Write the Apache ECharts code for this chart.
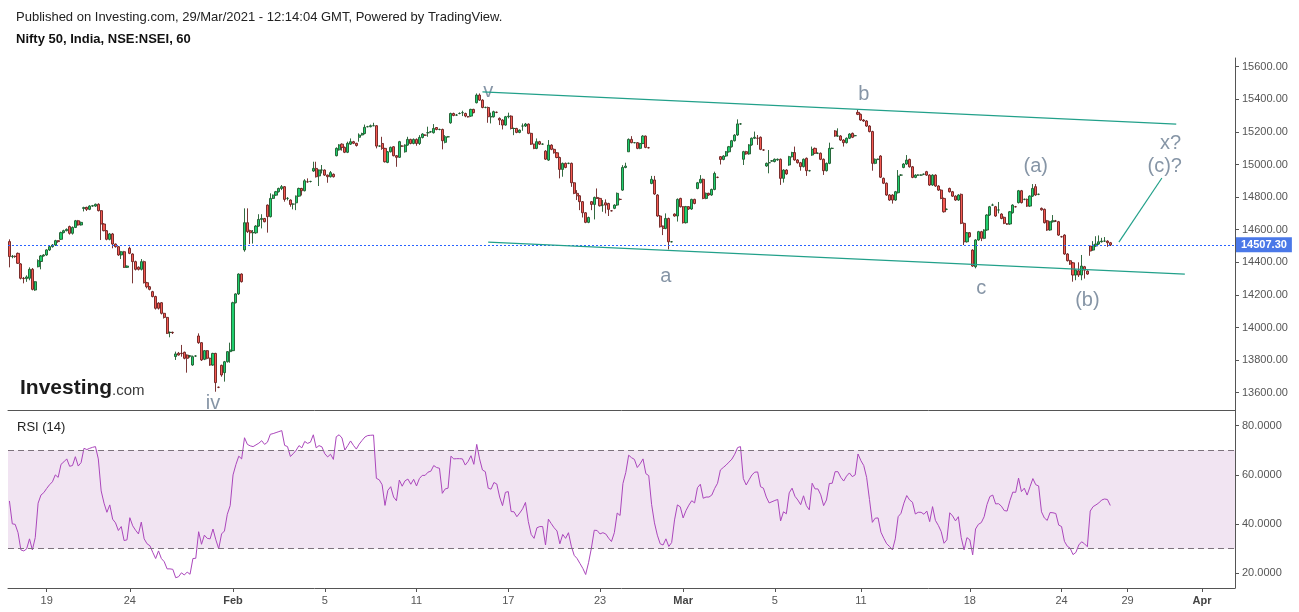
<!DOCTYPE html>
<html>
<head>
<meta charset="utf-8">
<script src="https://cdn.jsdelivr.net/npm/echarts@6/dist/echarts.min.js"></script>
<style>
html,body{margin:0;padding:0;background:#fff;}
#chart{width:1299px;height:612px;}
</style>
</head>
<body>
<div id="chart"></div>
<script>
// hourly candles [open, close, low, high], Nifty 50 (15 Jan - 26 Mar 2021)
const bars = [
[14527,14435,14369,14541],[14435,14437,14425,14445],[14437,14435,14428,14442],[14455,14394,14390,14460],[14390,14302,14295,14395],
[14302,14300,14271,14310],[14300,14310,14280,14320],[14302,14357,14290,14369],[14357,14234,14228,14365],[14230,14281,14225,14285],
[14373,14410,14369,14418],[14405,14439,14357,14445],[14439,14445,14435,14450],[14445,14476,14440,14480],[14476,14496,14470,14500],
[14496,14506,14490,14512],[14506,14533,14500,14538],[14533,14527,14520,14536],[14541,14582,14537,14588],[14582,14594,14578,14600],
[14594,14602,14590,14608],[14619,14578,14570,14625],[14578,14614,14570,14620],[14614,14655,14610,14660],[14655,14629,14625,14660],
[14629,14645,14625,14650],[14731,14735,14712,14741],[14737,14725,14715,14741],[14725,14745,14720,14750],[14745,14747,14740,14752],
[14745,14756,14740,14760],[14756,14717,14712,14762],[14717,14635,14537,14720],[14635,14594,14590,14640],[14594,14541,14535,14598],
[14541,14574,14535,14580],[14574,14512,14486,14580],[14512,14496,14490,14515],[14496,14445,14440,14500],[14445,14465,14420,14470],
[14465,14369,14365,14470],[14369,14377,14365,14380],[14486,14455,14450,14496],[14451,14404,14271,14455],[14404,14357,14350,14410],
[14370,14357,14350,14375],[14357,14404,14350,14420],[14404,14275,14270,14410],[14275,14250,14240,14280],[14250,14234,14228,14255],
[14220,14190,14185,14225],[14190,14118,14110,14195],[14150,14118,14110,14155],[14152,14087,14080,14156],[14087,14062,14055,14090],
[14062,13964,13960,14065],[13970,13970,13940,13975],[13970,13968,13960,13975],[13822,13838,13801,13852],[13842,13831,13828,13850],
[13842,13840,13821,13893],[13848,13811,13805,13852],[13831,13811,13723,13835],[13825,13825,13815,13830],[13770,13821,13765,13828],
[13825,13825,13820,13830],[13948,13907,13900,13964],[13907,13801,13795,13910],[13805,13858,13800,13862],[13858,13811,13805,13862],
[13811,13770,13765,13815],[13770,13841,13765,13845],[13841,13662,13606,13845],[13633,13633,13628,13638],[13768,13709,13698,13772],
[13723,13790,13668,13795],[13790,13852,13785,13855],[13852,13862,13784,13907],[13858,14152,13855,14158],[14152,14206,14148,14210],
[14206,14328,14200,14332],[14328,14281,14276,14332],[14476,14643,14465,14731],[14643,14588,14580,14731],[14594,14581,14512,14600],
[14581,14583,14515,14598],[14581,14622,14575,14628],[14622,14663,14618,14695],[14663,14669,14608,14695],[14669,14649,14645,14672],
[14751,14680,14582,14755],[14680,14792,14675,14823],[14792,14812,14788,14816],[14812,14833,14808,14838],[14833,14853,14828,14858],
[14853,14864,14843,14874],[14864,14786,14772,14868],[14792,14792,14780,14800],[14782,14755,14741,14786],[14757,14757,14725,14762],
[14765,14806,14720,14810],[14806,14853,14802,14858],[14853,14839,14810,14857],[14839,14900,14835,14910],[14894,14894,14888,14915],
[14896,14896,14890,14900],[14960,14976,14955,15017],[14976,14925,14920,15017],[14930,14966,14868,14970],[14966,14966,14945,14997],
[14966,14935,14930,14970],[14935,14925,14888,14938],[14925,14950,14920,14960],[14940,14925,14920,14945],[15054,15099,15050,15105],
[15090,15120,15085,15125],[15125,15105,15085,15130],[15105,15075,15070,15110],[15075,15130,15070,15140],[15125,15140,15120,15160],
[15140,15130,15125,15145],[15130,15117,15110,15133],[15167,15181,15140,15191],[15181,15190,15178,15195],[15190,15228,15185,15245],
[15232,15232,15228,15237],[15232,15238,15228,15245],[15238,15238,15235,15256],[15238,15113,15099,15242],[15113,15113,15108,15117],
[15129,15099,15090,15170],[15099,15017,15012,15102],[15013,15078,15008,15083],[15078,15105,15074,15110],[15109,15054,15050,15113],
[15054,15044,14986,15058],[15044,15140,15040,15145],[15113,15113,15108,15118],[15078,15119,15073,15124],[15119,15154,15115,15170],
[15154,15129,15124,15158],[15129,15154,15124,15160],[15154,15129,15115,15160],[15129,15166,15120,15180],[15166,15187,15160,15192],
[15180,15180,15175,15185],[15195,15195,15170,15232],[15201,15201,15195,15206],[15195,15221,15190,15248],[15227,15215,15210,15230],
[15215,15215,15210,15220],[15215,15146,15093,15220],[15136,15170,15130,15180],[15170,15170,15165,15175],[15256,15313,15250,15318],
[15313,15301,15296,15318],[15303,15303,15298,15310],[15313,15313,15308,15320],[15318,15318,15297,15330],[15313,15297,15290,15318],
[15293,15293,15288,15298],[15297,15338,15292,15342],[15338,15318,15314,15342],[15379,15426,15375,15436],[15426,15395,15390,15436],
[15395,15350,15345,15400],[15350,15350,15345,15355],[15350,15293,15256,15355],[15293,15293,15252,15318],[15293,15324,15288,15330],
[15320,15320,15315,15325],[15283,15273,15242,15289],[15273,15242,15215,15278],[15242,15293,15238,15298],[15293,15297,15283,15318],
[15297,15221,15215,15302],[15221,15221,15180,15226],[15221,15197,15192,15225],[15197,15211,15192,15215],[15236,15236,15207,15252],
[15236,15248,15230,15255],[15248,15191,15186,15252],[15191,15125,15120,15195],[15125,15099,15094,15128],[15099,15140,15094,15160],
[15140,15125,15120,15145],[15125,15125,15120,15130],[15082,15033,15028,15088],[15027,15119,15022,15150],[15119,15093,15088,15124],
[15093,15072,15067,15098],[15072,15043,15038,15076],[15043,14970,14915,15048],[14970,15007,14925,15012],[15007,14982,14977,15012],
[15007,15007,15002,15012],[15007,14888,14863,15012],[14888,14823,14818,14892],[14823,14808,14782,14843],[14808,14772,14720,14812],
[14772,14704,14675,14776],[14704,14645,14640,14708],[14645,14675,14640,14680],[14772,14755,14720,14776],[14755,14798,14663,14803],
[14798,14792,14788,14853],[14792,14747,14742,14796],[14751,14751,14710,14782],[14765,14751,14700,14786],[14761,14725,14684,14765],
[14716,14716,14712,14720],[14731,14751,14726,14756],[14751,14823,14746,14828],[14786,14786,14780,14792],[14843,14982,14838,14996],
[14982,14990,14977,15011],[15078,15154,15078,15160],[15154,15134,15130,15174],[15134,15134,15130,15138],[15134,15099,15094,15138],
[15099,15129,15094,15133],[15129,15174,15125,15180],[15174,15105,15100,15178],[15103,15103,15098,15108],[14884,14909,14879,14930],
[14905,14819,14814,14930],[14813,14684,14679,14818],[14684,14618,14613,14690],[14622,14608,14567,14626],[14608,14669,14603,14700],
[14669,14526,14479,14674],[14526,14526,14522,14530],[14696,14684,14680,14700],[14684,14786,14650,14792],[14792,14741,14736,14796],
[14741,14643,14638,14745],[14643,14741,14638,14746],[14741,14727,14722,14745],[14727,14786,14722,14790],[14786,14761,14756,14790],
[14853,14888,14848,14893],[14888,14909,14884,14935],[14909,14792,14787,14914],[14792,14823,14787,14828],[14823,14813,14808,14827],
[14813,14847,14808,14852],[14847,14945,14842,14956],[14921,14921,14916,14926],[15048,15031,15000,15052],[15031,15052,15026,15057],
[15052,15078,15047,15083],[15078,15109,15073,15114],[15109,15146,15104,15151],[15146,15180,15141,15186],[15181,15249,15176,15277],
[15249,15249,15244,15254],[15032,15079,14997,15084],[15079,15065,15060,15084],[15065,15120,15060,15125],[15120,15161,15115,15166],
[15161,15167,15156,15202],[15161,15161,15120,15181],[15167,15093,15088,15172],[15089,15089,15084,15094],[14991,15007,14986,15012],
[15011,15011,14946,15089],[15022,15022,15017,15027],[15018,15032,15013,15037],[15028,15032,15023,15037],[15032,14915,14875,15037],
[14915,14966,14889,14971],[14966,14942,14937,14971],[14997,15048,14992,15053],[15048,15073,15043,15078],[15073,15028,15023,15110],
[15028,15011,15006,15033],[15011,14987,14962,15016],[14987,15032,14982,15037],[15038,14962,14930,15043],[14962,14962,14957,14967],
[15058,15093,15053,15110],[15099,15069,15064,15104],[15069,15069,15064,15074],[15069,15032,15027,15074],[15032,14962,14936,15037],
[14962,15007,14957,15012],[15007,15099,15002,15134],[15099,15099,15094,15104],[15206,15175,15170,15211],[15175,15175,15170,15222],
[15175,15150,15145,15180],[15150,15134,15110,15155],[15134,15161,15129,15166],[15161,15187,15156,15192],[15191,15167,15162,15196],
[15177,15177,15172,15182],[15320,15308,15303,15335],[15308,15273,15268,15313],[15273,15267,15262,15278],[15267,15236,15231,15272],
[15236,15202,15197,15241],[15202,15007,14962,15207],[15007,15032,15002,15037],[15032,15032,15027,15037],[15052,14922,14917,15057],
[14915,14885,14880,14920],[14885,14813,14808,14890],[14813,14782,14777,14818],[14813,14782,14760,14818],[14782,14833,14777,14838],
[14827,14929,14822,14966],[14935,14935,14930,14940],[14982,15003,14977,15008],[15003,15027,14998,15058],[15031,14986,14981,15036],
[14986,14921,14916,14991],[14921,14935,14916,14940],[14935,14935,14930,14940],[14935,14935,14930,14940],[14940,14940,14935,14945],
[14956,14935,14930,14961],[14935,14874,14869,14940],[14874,14935,14869,14940],[14935,14868,14863,14940],[14868,14843,14838,14873],
[14843,14792,14787,14848],[14792,14710,14705,14797],[14725,14725,14720,14730],[14853,14833,14828,14858],[14833,14806,14801,14838],
[14806,14782,14777,14811],[14782,14813,14777,14818],[14817,14639,14634,14822],[14639,14526,14506,14644],[14526,14581,14521,14586],
[14581,14557,14552,14586],[14475,14377,14372,14480],[14373,14537,14363,14542],[14537,14588,14532,14593],[14588,14547,14530,14593],
[14547,14598,14542,14603],[14598,14690,14593,14695],[14690,14741,14685,14746],[14751,14751,14746,14760],[14741,14684,14679,14746],
[14721,14721,14700,14770],[14696,14669,14664,14701],[14676,14639,14634,14681],[14635,14635,14630,14640],[14635,14710,14630,14715],
[14704,14751,14699,14756],[14741,14741,14736,14746],[14766,14839,14761,14844],[14839,14766,14761,14844],[14786,14786,14781,14791],
[14786,14745,14740,14791],[14745,14806,14740,14811],[14806,14853,14801,14880],[14864,14813,14808,14880],[14817,14817,14812,14822],
[14731,14722,14717,14736],[14725,14643,14638,14730],[14655,14598,14593,14660],[14598,14649,14593,14654],[14649,14655,14644,14690],
[14653,14653,14648,14660],[14649,14567,14562,14654],[14557,14557,14552,14562],[14567,14451,14446,14572],[14451,14410,14405,14456],
[14410,14389,14384,14415],[14397,14322,14281,14402],[14322,14352,14290,14357],[14348,14322,14310,14400],[14322,14377,14290,14445],
[14373,14352,14300,14378],[14346,14328,14323,14351],[14500,14469,14440,14505],[14475,14506,14470,14530],[14500,14512,14495,14560],
[14512,14526,14507,14565],[14526,14530,14521,14550],[14530,14530,14525,14555],[14530,14520,14495,14535],[14520,14507.3,14500,14525]
];

// RSI (14) per candle
const rsi = [
49.4,40.1,39.9,36.5,29.5,29.1,29.9,34,29.5,34.5,48.5,51.8,52.8,54.5,56,57.2,60,59,64.3,65.3,
66.5,63.5,63.8,67.4,63.6,65,70.8,70.3,70.8,71.2,71.5,66.5,53.5,48.5,44.8,47.8,42,40.5,37.4,39,
33.3,33.6,42.6,39.3,37.5,36,40.8,34,32,31.2,28.5,26,29.1,26,24.7,21.8,21.8,21.6,18.2,18.6,
20.2,19.3,20.5,19.6,26,26.1,36.9,31.8,35.5,34.2,34,38,33.6,30,36,37.2,44,47.5,60,64.2,
67.6,66.5,75.1,72.4,71.8,71.5,72.2,72.9,73.9,72.4,73.3,76.5,76.8,77.2,77.6,78,72,71.5,67.5,68.6,
70,71.9,71,73.6,72.8,73.3,76.3,71,71.9,71.4,68.6,67.3,68.4,66.3,75.5,76.3,75,70.1,71.9,73.8,
72,70.5,72.5,74,75.4,76,76.1,76.2,58.6,58,56,47.6,53.7,55.2,51,49.5,57.9,55.4,57.6,58.3,
56.2,58.2,55.5,58.5,59.8,59.8,61.1,61.5,63.8,63,62.7,52.5,54.3,54.6,67.6,66.5,66.6,66.6,66.5,64,
65.5,67.8,64.3,72.4,66.5,62,61.3,54.6,54.2,56.9,56.3,51,47.5,52.9,53.2,45.1,45,43,44.5,46.2,
48.8,41,35.8,34.2,38.5,39,39,31.5,42,40.2,38.5,37.2,32,35.8,34.2,36.5,31,27.3,26,24,
22,19.5,24.3,30.2,37.5,37.4,36,36.5,36,34.3,32.9,36.5,44.5,43.5,56.5,61,68,67,66.3,63,
64.5,66.5,60.5,59.7,48,40.5,35.5,32,31.5,34,30.9,32.5,41.7,47.8,47,42.5,45.5,47.7,49.5,48.6,
54.8,56.2,50.5,51,51,51.8,54.5,56.6,62,63,64,65.2,66.4,68.4,71.1,71.5,58.5,55.9,58,60,
61.1,61.2,55.2,54.6,51,48.6,49.1,49.6,50,41.3,45,44.2,52.7,54.6,51.3,49.8,47.9,51.5,47.5,45.8,
56.6,54.3,54.3,51.9,47.5,49.8,56.5,56.6,61.3,61.3,59,57.5,59.5,60.8,59.3,60,68.5,65.8,63.8,59,
50,40.7,42.4,42.5,36.7,34.2,32,30.9,29.5,34,43,44.4,48.5,51.6,49.8,48.9,44.1,44.8,44.8,44,
45.3,41,47.1,41.5,39.5,37,32.2,33.6,44.6,43.3,41.3,43,34.5,29.5,34.5,33.6,27.5,38,39.9,40.6,
43,48,51.2,51.8,48.2,48.3,47.3,45.5,45.3,49.6,53,52.9,58.7,53.2,54.6,51.8,55.2,58.5,56,55.5,
45,42.5,41.5,44.7,44.6,44.3,39.6,39,33,31,30.2,27.6,28.5,31.5,32.8,32,30.8,45.3,47.1,47.8,
48.6,49.8,50.2,50,47.5712
];

const totalSlots = 428;            // candle slots incl. empty future space
const tickLabels = ['19','24','Feb','5','11','17','23','Mar','5','11','18','24','29','Apr'];
const tickBars   = [13,42,78,110,142,174,206,235,267,297,335,367,390,416];
const monthLabels = ['Feb','Mar','Apr'];
const priceTicks = [13600,13800,14000,14200,14400,14600,14800,15000,15200,15400,15600];
const rsiTicks = [20,40,60,80];
const lastPrice = 14507.3;
const lastRsi = 47.5712;
const waveLabels = [
  ['v',167,15446],['b',298,15432],['a',229,14314],['c',339,14242],['iv',71,13532],
  ['(a)',358,14990],['(b)',376,14165],['x?',405,15132],['(c)?',403,14985]
];
const trendLines = [
  [[165,15445],[407,15248]],
  [[167,14524],[410,14328]],
  [[387,14524],[402,14917]]
];

const FONT = '"Liberation Sans", Arial, sans-serif';
const categories = Array.from({length: totalSlots}, (_, i) => String(i));
const labelAt = {};
tickBars.forEach((b, i) => { labelAt[b] = tickLabels[i]; });
const showTick = (index) => labelAt[index] !== undefined;

const chart = echarts.init(document.getElementById('chart'));
chart.setOption({
  animation: false,
  backgroundColor: '#ffffff',
  grid: [
    {left: 8, right: 64, top: 58, bottom: 202},
    {left: 8, right: 64, top: 410, bottom: 24}
  ],
  xAxis: [
    {type: 'category', gridIndex: 0, data: categories, boundaryGap: true,
     axisLine: {show: true, lineStyle: {color: '#555', width: 1}},
     axisTick: {show: false}, axisLabel: {show: false}, splitLine: {show: false}},
    {type: 'category', gridIndex: 1, data: categories, boundaryGap: true,
     axisLine: {show: true, lineStyle: {color: '#555', width: 1}},
     axisTick: {show: true, interval: showTick, alignWithLabel: true, length: 4, lineStyle: {color: '#555'}},
     axisLabel: {show: true, interval: showTick, margin: 7, fontFamily: FONT, fontSize: 11, color: '#555',
       formatter: (v, i) => {
         const t = labelAt[i];
         if (t === undefined) return '';
         return monthLabels.includes(t) ? '{m|' + t + '}' : t;
       },
       rich: {m: {fontWeight: 'bold', fontFamily: FONT, fontSize: 11, color: '#444'}}},
     splitLine: {show: false}}
  ],
  yAxis: [
    {type: 'value', gridIndex: 0, position: 'right', min: 13493.9, max: 15653.4,
     axisLine: {show: true, lineStyle: {color: '#555', width: 1}},
     axisTick: {show: true, customValues: priceTicks, length: 4, lineStyle: {color: '#555'}},
     axisLabel: {show: true, customValues: priceTicks, margin: 7, fontFamily: FONT, fontSize: 11, color: '#555',
       formatter: v => v.toFixed(2)},
     splitLine: {show: false}},
    {type: 'value', gridIndex: 1, position: 'right', min: 14.02, max: 86.38,
     axisLine: {show: true, lineStyle: {color: '#555', width: 1}},
     axisTick: {show: true, customValues: rsiTicks, length: 4, lineStyle: {color: '#555'}},
     axisLabel: {show: true, customValues: rsiTicks, margin: 7, fontFamily: FONT, fontSize: 11, color: '#555',
       formatter: v => v.toFixed(4)},
     splitLine: {show: false}}
  ],
  series: [
    {
      type: 'candlestick', xAxisIndex: 0, yAxisIndex: 0, data: bars,
      barWidth: 2.6,
      itemStyle: {color: '#1fcf6e', color0: '#f55a52', borderColor: '#1d5a2c', borderColor0: '#6b1f1f', borderWidth: 0.9},
      markLine: {
        silent: true, symbol: ['none', 'none'], animation: false,
        lineStyle: {color: '#2962ff', type: [2, 2], width: 1.2, opacity: 1},
        data: [
          {yAxis: lastPrice,
           lineStyle: {color: '#2962ff', type: [2, 2], width: 1.2},
           label: {show: true, position: 'end', distance: 1, formatter: lastPrice.toFixed(2),
             backgroundColor: '#4a78e8', color: '#fff', fontWeight: 'bold', fontFamily: FONT, fontSize: 11,
             padding: [2, 5, 2, 5]}}
        ].concat(trendLines.map(l => [
          {coord: l[0], lineStyle: {color: '#22a08a', width: 1.2, type: 'solid'}, label: {show: false}},
          {coord: l[1]}
        ]))
      }
    },
    {
      type: 'scatter', xAxisIndex: 0, yAxisIndex: 0, silent: true, symbolSize: 1,
      itemStyle: {color: 'rgba(0,0,0,0)'},
      data: waveLabels.map(w => ({name: w[0], value: [w[1], w[2]]})),
      label: {show: true, position: 'inside', formatter: '{b}', color: '#687b90', fontSize: 20, fontFamily: FONT}
    },
    {
      type: 'line', xAxisIndex: 1, yAxisIndex: 1, data: rsi, showSymbol: false, symbol: 'none',
      lineStyle: {color: '#ab47bc', width: 1}, silent: true,
      markArea: {silent: true, itemStyle: {color: '#f1e4f2'}, data: [[{yAxis: 30}, {yAxis: 70}]]},
      markLine: {
        silent: true, symbol: ['none', 'none'],
        data: [
          {yAxis: 70, lineStyle: {color: '#7d727d', type: [6, 4], width: 1}, label: {show: false}},
          {yAxis: 30, lineStyle: {color: '#7d727d', type: [6, 4], width: 1}, label: {show: false}},
          {yAxis: lastRsi, lineStyle: {opacity: 0},
           label: {show: true, position: 'end', distance: 1, formatter: lastRsi.toFixed(4),
             backgroundColor: '#800080', color: '#fff', fontWeight: 'bold', fontFamily: FONT, fontSize: 11,
             padding: [2, 5, 2, 5]}}
        ]
      }
    }
  ],
  graphic: [
    {type: 'text', left: 16, top: 11, style: {text: 'Published on Investing.com, 29/Mar/2021 - 12:14:04 GMT, Powered by TradingView.',
      font: '13px ' + FONT, fill: '#222'}},
    {type: 'text', left: 16, top: 33, style: {text: 'Nifty 50, India, NSE:NSEI, 60', font: 'bold 13px ' + FONT, fill: '#111'}},
    {type: 'text', left: 17, top: 421, style: {text: 'RSI (14)', font: '13px ' + FONT, fill: '#222'}},
    {type: 'text', left: 20, top: 378, style: {text: 'Investing', font: 'bold 21px ' + FONT, fill: '#1c1c1c'}},
    {type: 'text', left: 112, top: 383, style: {text: '.com', font: '15px ' + FONT, fill: '#3a3a3a'}}
  ]
});
</script>
</body>
</html>
